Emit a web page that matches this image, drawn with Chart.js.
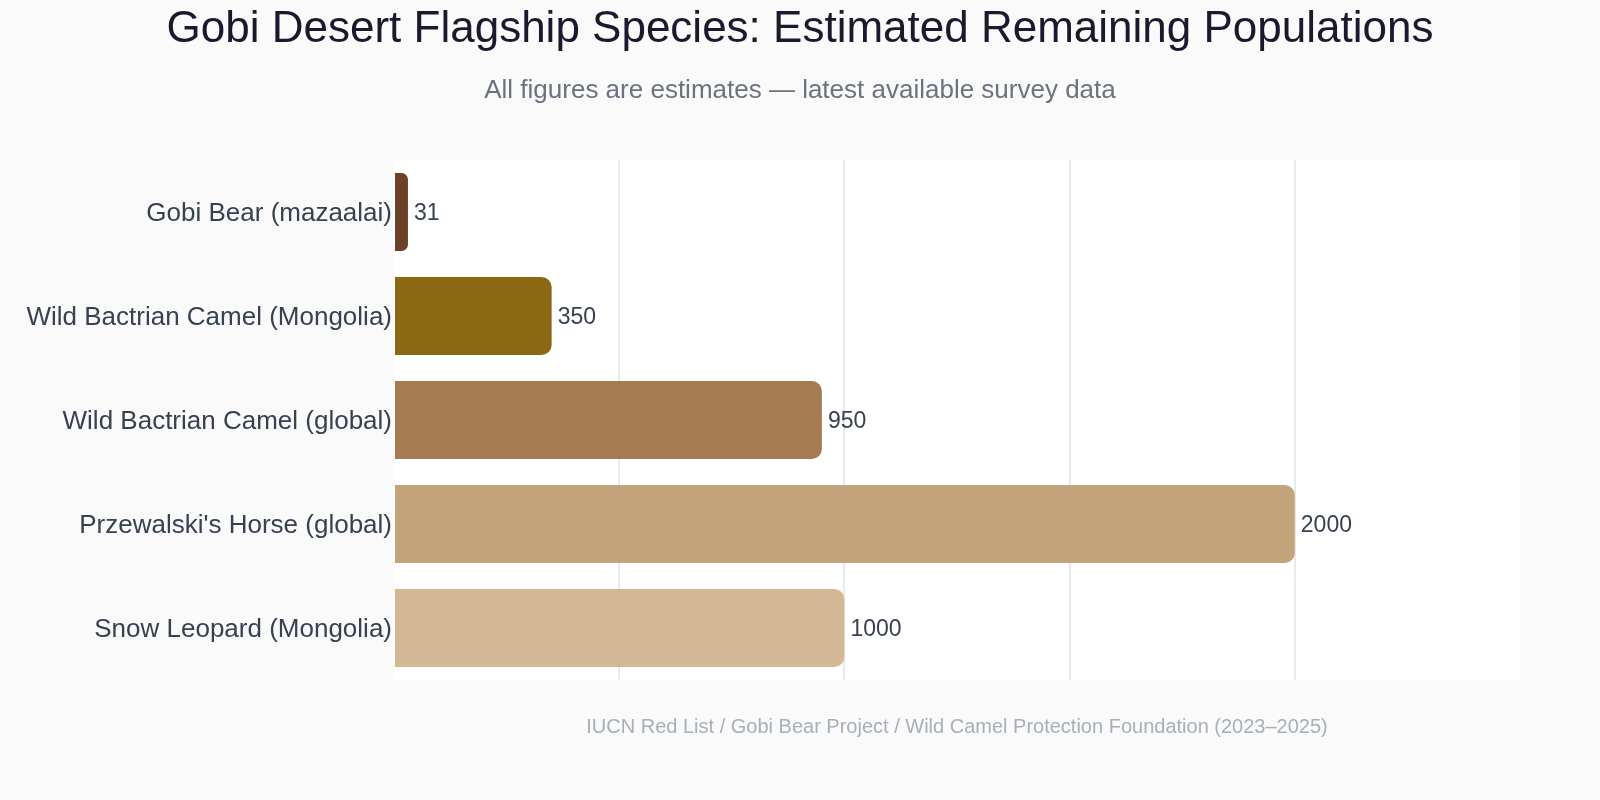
<!DOCTYPE html>
<html>
<head>
<meta charset="utf-8">
<script src="https://cdn.jsdelivr.net/npm/chart.js@4.4.1/dist/chart.umd.min.js"></script>
<style>
  html, body { margin: 0; padding: 0; background: #fafafa; }
  #wrap { width: 1600px; height: 800px; position: relative; }
</style>
</head>
<body>
<div id="wrap"><canvas id="c" width="1600" height="800"></canvas></div>
<script>
const categories = [
  "Gobi Bear (mazaalai)",
  "Wild Bactrian Camel (Mongolia)",
  "Wild Bactrian Camel (global)",
  "Przewalski's Horse (global)",
  "Snow Leopard (Mongolia)"
];
const populations = [31, 350, 950, 2000, 1000];
const barColors = ["#6b4226", "#8b6914", "#a67b51", "#c4a57b", "#d4b794"];
const xMin = 0, xMax = 2500, xStep = 500;

const FONT = "'Liberation Sans', Arial, Helvetica, sans-serif";

const areaBg = {
  id: 'areaBg',
  afterLayout(chart) {
    // let long category labels extend into the left margin (no clipping)
    if (chart.scales.y) chart.scales.y.left = 0;
  },
  beforeDraw(chart) {
    const { ctx, chartArea: a } = chart;
    ctx.save();
    ctx.fillStyle = '#ffffff';
    ctx.fillRect(a.left, a.top, a.right - a.left, a.bottom - a.top);
    ctx.restore();
  }
};

const valueLabels = {
  id: 'valueLabels',
  afterDatasetsDraw(chart) {
    const { ctx } = chart;
    const meta = chart.getDatasetMeta(0);
    ctx.save();
    ctx.font = '23px ' + FONT;
    ctx.fillStyle = '#374151';
    ctx.textAlign = 'left';
    ctx.textBaseline = 'middle';
    meta.data.forEach((bar, i) => {
      ctx.fillText(String(chart.data.datasets[0].data[i]), bar.x + 6, bar.y + 2);
    });
    ctx.restore();
  }
};

new Chart(document.getElementById('c'), {
  type: 'bar',
  data: {
    labels: categories,
    datasets: [{
      data: populations,
      backgroundColor: barColors,
      borderRadius: 10,
      borderSkipped: 'start',
      barPercentage: 0.75,
      categoryPercentage: 1.0
    }]
  },
  options: {
    indexAxis: 'y',
    responsive: false,
    animation: false,
    layout: { padding: { left: 80, right: 80, top: 0, bottom: 61 } },
    plugins: {
      legend: { display: false },
      tooltip: { enabled: false },
      title: {
        display: true,
        text: 'Gobi Desert Flagship Species: Estimated Remaining Populations',
        color: '#1a1a2e',
        font: { family: FONT, size: 44, weight: 'normal' },
        padding: { top: 3, bottom: 19.5 }
      },
      subtitle: {
        display: true,
        text: 'All figures are estimates \u2014 latest available survey data',
        color: '#6b7280',
        font: { family: FONT, size: 26, weight: 'normal' },
        padding: { top: 0, bottom: 53.5 }
      }
    },
    scales: {
      x: {
        min: xMin, max: xMax,
        ticks: { display: false, stepSize: xStep },
        grid: {
          drawTicks: false,
          color: (c) => (c.tick && (c.tick.value === xMin || c.tick.value === xMax)) ? 'rgba(0,0,0,0)' : '#e8eaee',
          lineWidth: 2
        },
        border: { display: false },
        title: {
          display: true,
          text: 'IUCN Red List / Gobi Bear Project / Wild Camel Protection Foundation (2023\u20132025)',
          color: '#a7afba',
          font: { family: FONT, size: 20 },
          padding: { top: 35, bottom: 0 }
        }
      },
      y: {
        afterFit(scale) { scale.width = 314; },
        grid: { display: false, drawTicks: false },
        border: { display: false },
        ticks: {
          color: '#374151',
          font: { family: FONT, size: 26 },
          padding: 2,
          labelOffset: 2
        }
      }
    }
  },
  plugins: [areaBg, valueLabels]
});
</script>
</body>
</html>
